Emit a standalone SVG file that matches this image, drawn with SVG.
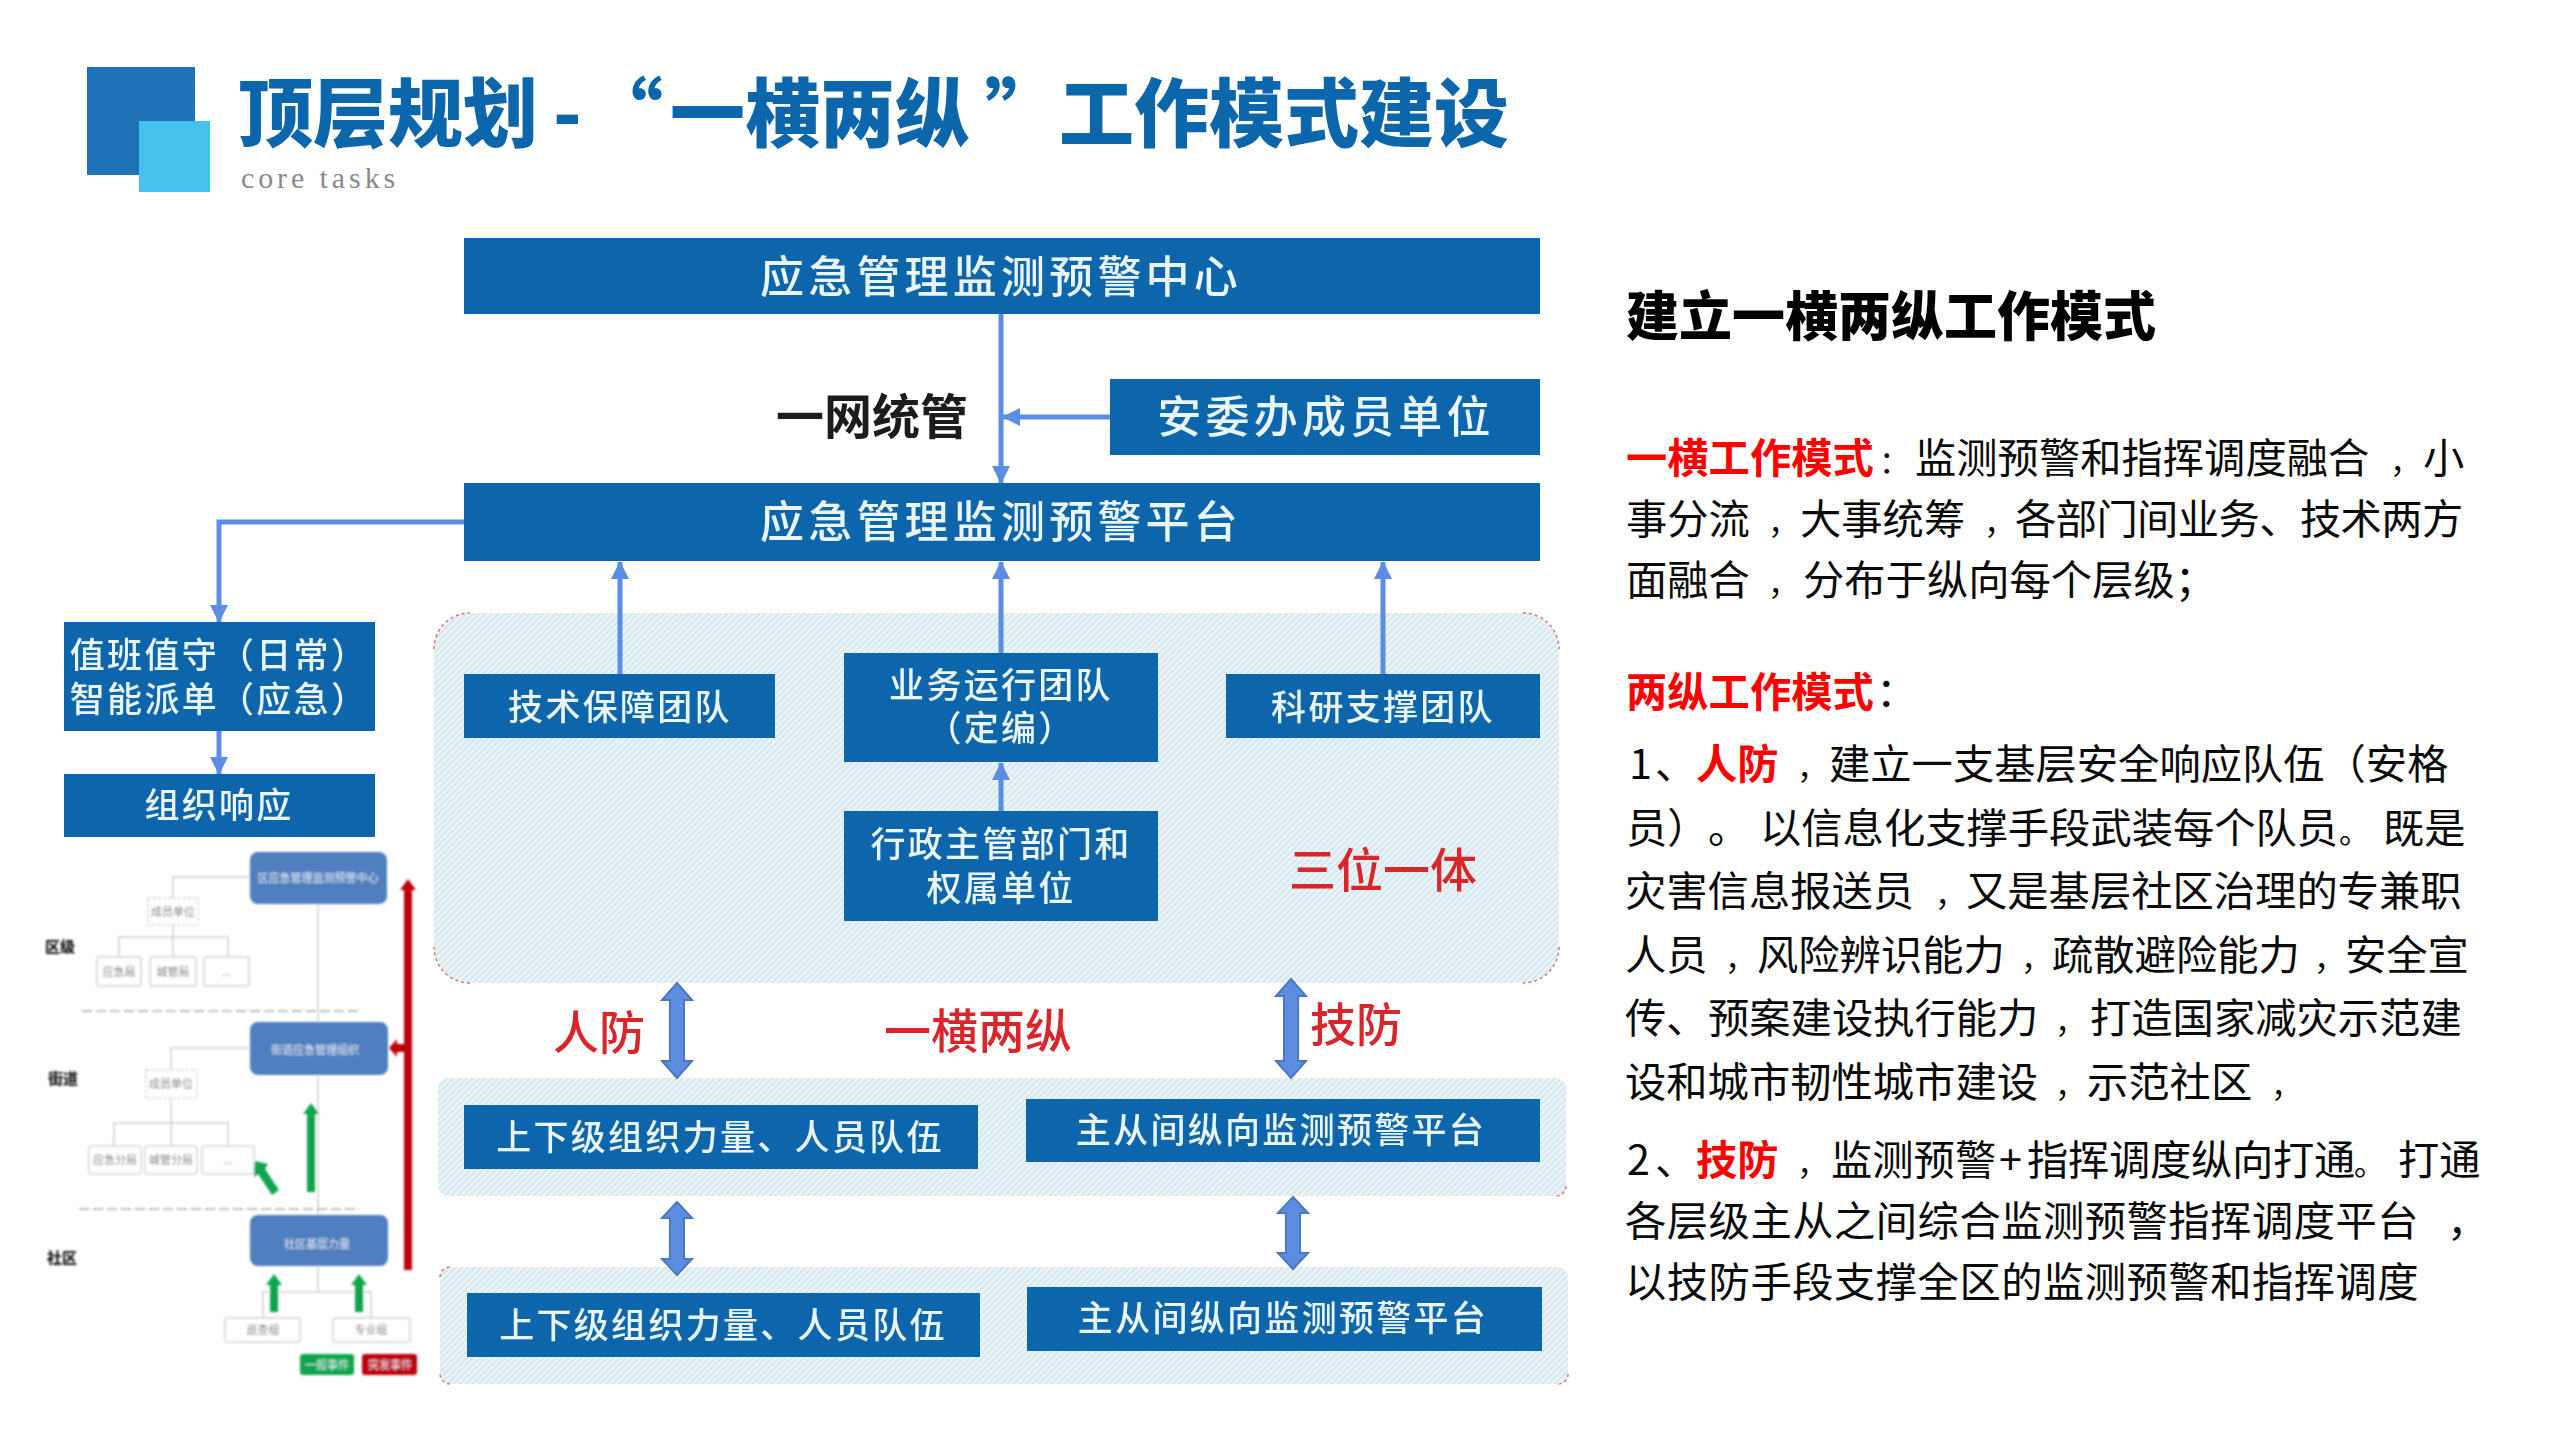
<svg xmlns="http://www.w3.org/2000/svg" width="2560" height="1440" viewBox="0 0 2560 1440">
<style>
text{font-family:"Noto Sans CJK SC","Noto Sans",sans-serif}
.box{fill:#0c66ab}
.bt{fill:#eaf5f8;text-anchor:middle;dominant-baseline:central;font-weight:500}
.b48{font-size:44px;letter-spacing:4.2px}
.b37{font-size:35px;letter-spacing:2.3px}
.rd{fill:#d9252b;font-size:46px;font-weight:500;text-anchor:middle;dominant-baseline:central}
.body{font-size:41.3px;fill:#0a0a0a}
.c{font-size:31px}
.hl{font-weight:700;fill:#f00}
.conn{fill:none;stroke:#5b8de4;stroke-width:5}
.dbl{fill:#5b8de0;stroke:#4a77c0;stroke-width:2}
.soft{filter:url(#soft)}
.mini{filter:url(#mini)}
.mb{fill:#4f7fbf}
.mt{fill:#e4ecf6;font-size:11px;text-anchor:middle;dominant-baseline:central}
.gb{fill:#fff;stroke:#d4d4d4;stroke-width:1.5}
.gt{fill:#777;font-size:11px;text-anchor:middle;dominant-baseline:central}
.gl{fill:none;stroke:#cfcfcf;stroke-width:1.5}
.lv{fill:#222;font-size:15px;font-weight:900;text-anchor:middle;dominant-baseline:central}
.ga{fill:#0fa650}
.ra{fill:#c00010}
.corner{fill:none;stroke:#e07070;stroke-width:1.5;stroke-dasharray:3 3}
</style>
<defs>
<pattern id="hatch" width="4.5" height="4.5" patternUnits="userSpaceOnUse" patternTransform="rotate(45)">
<rect width="4.5" height="4.5" fill="#d6e8ef"/><rect width="2.2" height="4.5" fill="#eef6f8"/>
</pattern>
<marker id="ah" markerUnits="userSpaceOnUse" markerWidth="20" markerHeight="20" refX="17" refY="9" orient="auto"><path d="M0 0L18 9L0 18z" fill="#5b8de4"/></marker>
<filter id="soft" x="-2%" y="-2%" width="104%" height="104%"><feGaussianBlur stdDeviation="0.6"/></filter>
<filter id="mini" x="-2%" y="-2%" width="104%" height="104%"><feGaussianBlur stdDeviation="0.9"/></filter>
</defs>
<rect width="2560" height="1440" fill="#fff"/>

<g id="header">
<rect x="87" y="67" width="108" height="108" fill="#1f72b8"/>
<rect x="139" y="121" width="71" height="71" fill="#45c1ee"/>
<text x="238" y="141" font-size="75" font-weight="900" fill="#0c66ab">顶层规划<tspan x="553">-</tspan><tspan x="588">“</tspan><tspan x="670">一横两纵</tspan><tspan x="985">”</tspan><tspan x="1059">工作模式建设</tspan></text>
<text x="241" y="188" font-size="30" letter-spacing="3.9" fill="#8a8a8a" style="font-family:'Liberation Serif',serif">core tasks</text>
</g>

<g id="panels">
<rect id="panel-main" x="434" y="613" width="1125" height="370" rx="36" fill="url(#hatch)"/>
<rect id="panel-row1" x="438" y="1078" width="1128" height="118" rx="10" fill="url(#hatch)"/>
<rect id="panel-row2" x="440" y="1267" width="1128" height="117" rx="10" fill="url(#hatch)"/>
<path class="corner" d="M434 649A36 36 0 0 1 470 613M1523 613A36 36 0 0 1 1559 649M1559 947A36 36 0 0 1 1523 983M470 983A36 36 0 0 1 434 947M1566 1186A10 10 0 0 1 1556 1196M440 1277A10 10 0 0 1 450 1267M450 1384A10 10 0 0 1 440 1374M1568 1374A10 10 0 0 1 1558 1384"/>
</g>

<g id="connectors" class="soft">
<path class="conn" marker-end="url(#ah)" d="M1001 314V483"/>
<path class="conn" marker-end="url(#ah)" d="M1110 417H1003"/>
<path class="conn" marker-end="url(#ah)" d="M464 522H219V622"/>
<path class="conn" marker-end="url(#ah)" d="M219 731V774"/>
<path class="conn" marker-end="url(#ah)" d="M620 674V562"/>
<path class="conn" marker-end="url(#ah)" d="M1001 653V562"/>
<path class="conn" marker-end="url(#ah)" d="M1383 674V562"/>
<path class="conn" marker-end="url(#ah)" d="M1001 811V763"/>
<polygon class="dbl" points="677,983 692,1000 684,1000 684,1061 692,1061 677,1078 662,1061 670,1061 670,1000 662,1000"/>
<polygon class="dbl" points="677,1202 692,1218 684,1218 684,1259 692,1259 677,1275 662,1259 670,1259 670,1218 662,1218"/>
<polygon class="dbl" points="1291,979 1306,996 1298,996 1298,1061 1306,1061 1291,1078 1276,1061 1284,1061 1284,996 1276,996"/>
<polygon class="dbl" points="1293,1197 1308,1213 1300,1213 1300,1253 1308,1253 1293,1269 1278,1253 1286,1253 1286,1213 1278,1213"/>
</g>

<g class="soft">
<g id="n-center"><rect class="box" x="464" y="238" width="1076" height="76"/><text class="bt b48" x="1001" y="274">应急管理监测预警中心</text></g>
<g id="n-anwei"><rect class="box" x="1110" y="379" width="430" height="76"/><text class="bt b48" x="1326" y="414">安委办成员单位</text></g>
<g id="n-platform"><rect class="box" x="464" y="483" width="1076" height="78"/><text class="bt b48" x="1001" y="519">应急管理监测预警平台</text></g>
<g id="n-duty"><rect class="box" x="64" y="622" width="311" height="109"/><text class="bt b37" x="219" y="652">值班值守（日常）</text><text class="bt b37" x="219" y="696">智能派单（应急）</text></g>
<g id="n-response"><rect class="box" x="64" y="774" width="311" height="63"/><text class="bt b37" x="219" y="802">组织响应</text></g>
<g id="n-tech"><rect class="box" x="464" y="674" width="311" height="64"/><text class="bt b37" x="620" y="704">技术保障团队</text></g>
<g id="n-ops"><rect class="box" x="844" y="653" width="314" height="109"/><text class="bt b37" x="1001" y="682">业务运行团队</text><text class="bt b37" x="1001" y="725">（定编）</text></g>
<g id="n-admin"><rect class="box" x="844" y="811" width="314" height="110"/><text class="bt b37" x="1001" y="841">行政主管部门和</text><text class="bt b37" x="1001" y="885">权属单位</text></g>
<g id="n-research"><rect class="box" x="1226" y="674" width="314" height="64"/><text class="bt b37" x="1383" y="704">科研支撑团队</text></g>
<g id="n-org1"><rect class="box" x="464" y="1105" width="514" height="64"/><text class="bt b37" x="720" y="1134">上下级组织力量、人员队伍</text></g>
<g id="n-plat1"><rect class="box" x="1026" y="1099" width="514" height="63"/><text class="bt b37" x="1281" y="1127">主从间纵向监测预警平台</text></g>
<g id="n-org2"><rect class="box" x="467" y="1293" width="513" height="64"/><text class="bt b37" x="723" y="1322">上下级组织力量、人员队伍</text></g>
<g id="n-plat2"><rect class="box" x="1027" y="1287" width="515" height="64"/><text class="bt b37" x="1283" y="1315">主从间纵向监测预警平台</text></g>
<g id="l-net"><text x="872" y="413" font-size="48" font-weight="700" fill="#1a1a1a" text-anchor="middle" dominant-baseline="central">一网统管</text></g>
<g id="l-three"><text class="rd" x="1383" y="866" style="font-size:47px">三位一体</text></g>
<g id="l-renfang"><text class="rd" x="599" y="1029">人防</text></g>
<g id="l-yiheng"><text class="rd" x="978" y="1027" style="font-size:47px">一横两纵</text></g>
<g id="l-jifang"><text class="rd" x="1356" y="1021">技防</text></g>
</g>

<g id="mini-chart" class="mini">
<path class="gl" d="M318 904V1292M250 877H173V957M119 957V937H228V957M250 1048H171V1146M114 1146V1123H228V1146M263 1318V1292H371V1318"/>
<path class="gl" stroke-dasharray="10 4" d="M82 1011H362M79 1209H360" style="stroke:#aaa"/>
<g id="m-center"><rect class="mb" x="250" y="852" width="137" height="52" rx="8"/><text class="mt" x="318" y="877">区应急管理监测预警中心</text></g>
<g id="m-street"><rect class="mb" x="250" y="1022" width="138" height="53" rx="8"/><text class="mt" x="315" y="1049">街道应急管理组织</text></g>
<g id="m-comm"><rect class="mb" x="250" y="1215" width="138" height="51" rx="8"/><text class="mt" x="317" y="1243">社区基层力量</text></g>
<g id="m-u1"><rect class="gb" x="148" y="898" width="50" height="27" stroke-dasharray="3 2"/><text class="gt" x="173" y="911">成员单位</text></g>
<g id="m-a1"><rect class="gb" x="97" y="957" width="44" height="29" rx="2"/><text class="gt" x="119" y="971">应急局</text></g>
<g id="m-a2"><rect class="gb" x="150" y="957" width="46" height="29" rx="2"/><text class="gt" x="173" y="971">城管局</text></g>
<g id="m-a3"><rect class="gb" x="204" y="957" width="45" height="29" rx="2"/><text class="gt" x="226" y="971">...</text></g>
<g id="m-u2"><rect class="gb" x="146" y="1070" width="51" height="28" stroke-dasharray="3 2"/><text class="gt" x="171" y="1083">成员单位</text></g>
<g id="m-b1"><rect class="gb" x="89" y="1146" width="52" height="28" rx="2"/><text class="gt" x="115" y="1159">应急分局</text></g>
<g id="m-b2"><rect class="gb" x="145" y="1146" width="52" height="28" rx="2"/><text class="gt" x="171" y="1159">城管分局</text></g>
<g id="m-b3"><rect class="gb" x="202" y="1146" width="52" height="28" rx="2"/><text class="gt" x="228" y="1159">...</text></g>
<g id="m-c1"><rect class="gb" x="225" y="1318" width="75" height="24" rx="2"/><text class="gt" x="263" y="1329">巡查组</text></g>
<g id="m-c2"><rect class="gb" x="333" y="1318" width="77" height="24" rx="2"/><text class="gt" x="371" y="1329">专业组</text></g>
<text class="lv" x="60" y="945">区级</text>
<text class="lv" x="63" y="1077">街道</text>
<text class="lv" x="62" y="1256">社区</text>
<polygon class="ra" points="408,879 416,890 412,890 412,1270 404,1270 404,1052 397,1052 397,1057 389,1048 397,1039 397,1044 404,1044 404,890 400,890"/>
<polygon class="ga" points="311,1103 319,1114 315,1114 315,1192 307,1192 307,1114 303,1114"/>
<polygon class="ga" points="255,1161 268,1164 265,1169 279,1190 272,1195 258,1174 254,1177"/>
<polygon class="ga" points="274,1274 282,1285 278,1285 278,1312 270,1312 270,1285 266,1285"/>
<polygon class="ga" points="359,1274 367,1285 363,1285 363,1312 355,1312 355,1285 351,1285"/>
<g id="m-l1"><rect class="ga" x="300" y="1354" width="54" height="21" rx="3"/><text class="mt" x="327" y="1364">一般事件</text></g>
<g id="m-l2"><rect class="ra" x="362" y="1354" width="55" height="21" rx="3"/><text class="mt" x="390" y="1364">突发事件</text></g>
</g>

<g id="notes">
<text x="1626" y="336" font-size="53" font-weight="900" fill="#000">建立一横两纵工作模式</text>
<text class="body" y="473"><tspan class="hl" x="1626">一横工作模式</tspan><tspan class="c" x="1879">：</tspan><tspan x="1915">监测预警和指挥调度融合</tspan><tspan class="c" x="2390">，</tspan><tspan x="2423">小</tspan></text>
<text class="body" y="534"><tspan x="1626">事分流</tspan><tspan class="c" x="1768">，</tspan><tspan x="1800">大事统筹</tspan><tspan class="c" x="1984">，</tspan><tspan x="2015" letter-spacing="-0.6">各部门间业务、技术两方</tspan></text>
<text class="body" y="595"><tspan x="1626">面融合</tspan><tspan class="c" x="1768">，</tspan><tspan x="1803">分布于纵向每个层级；</tspan></text>
<text class="body" y="707"><tspan class="hl" x="1626">两纵工作模式</tspan><tspan x="1876">：</tspan></text>
<text class="body" y="779"><tspan x="1629">1</tspan><tspan x="1655">、</tspan><tspan class="hl" x="1696">人防</tspan><tspan class="c" x="1797">，</tspan><tspan x="1829">建立一支基层安全响应队伍（安格</tspan></text>
<text class="body" y="843"><tspan x="1626">员）</tspan><tspan x="1708">。</tspan><tspan x="1760">以信息化支撑手段武装每个队员</tspan><tspan class="c" x="2339">。</tspan><tspan x="2383">既是</tspan></text>
<text class="body" y="906"><tspan x="1625">灾害信息报送员</tspan><tspan class="c" x="1935">，</tspan><tspan x="1966">又是基层社区治理的专兼职</tspan></text>
<text class="body" y="970"><tspan x="1625">人员</tspan><tspan class="c" x="1725">，</tspan><tspan x="1757">风险辨识能力</tspan><tspan class="c" x="2021">，</tspan><tspan x="2052">疏散避险能力</tspan><tspan class="c" x="2314">，</tspan><tspan x="2345">安全宣</tspan></text>
<text class="body" y="1033"><tspan x="1625">传、</tspan><tspan x="1708">预案建设执行能力</tspan><tspan class="c" x="2055">，</tspan><tspan x="2090">打造国家减灾示范建</tspan></text>
<text class="body" y="1097"><tspan x="1625">设和城市韧性城市建设</tspan><tspan class="c" x="2055">，</tspan><tspan x="2087">示范社区</tspan><tspan class="c" x="2271">，</tspan></text>
<text class="body" y="1175"><tspan x="1627">2</tspan><tspan x="1655">、</tspan><tspan class="hl" x="1696">技防</tspan><tspan class="c" x="1797">，</tspan><tspan x="1831">监测预警</tspan><tspan x="1999">+</tspan><tspan x="2027" letter-spacing="-0.3">指挥调度纵向打通</tspan><tspan class="c" x="2354">。</tspan><tspan x="2398">打通</tspan></text>
<text class="body" y="1236" style="letter-spacing:.5px"><tspan x="1625">各层级主从之间综合监测预警指挥调度平台</tspan><tspan x="2447">，</tspan></text>
<text class="body" y="1297" style="letter-spacing:.5px"><tspan x="1625">以技防手段支撑全区的监测预警和指挥调度</tspan></text>
</g>
</svg>
